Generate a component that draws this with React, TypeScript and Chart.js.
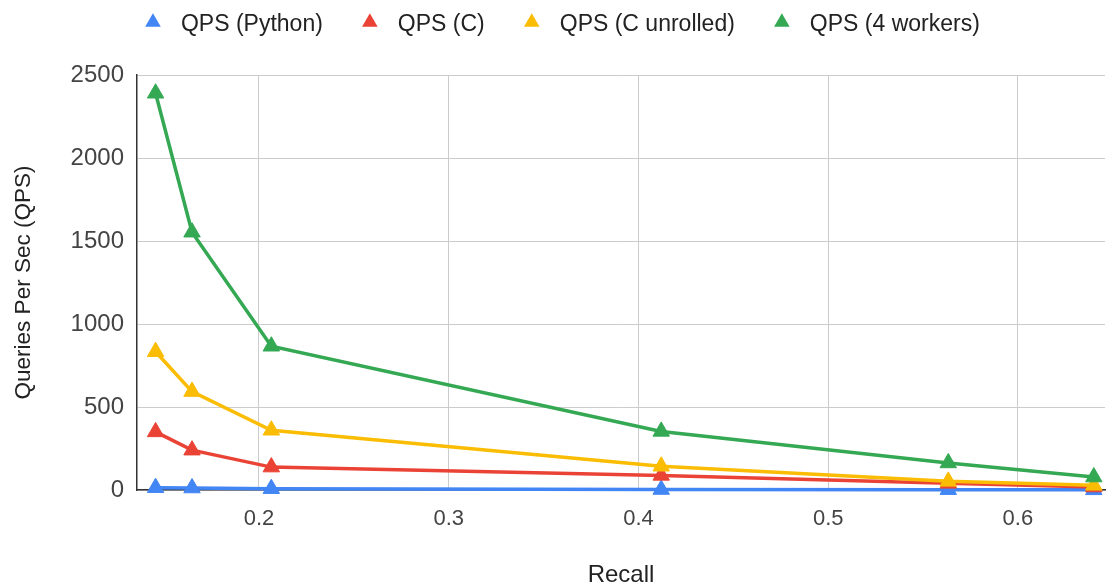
import React, { useEffect, useRef } from "react";
import { Chart, registerables } from "chart.js";

Chart.register(...registerables);

// ---- Data ----
const recall = [0.1455, 0.1647, 0.2065, 0.412, 0.5633, 0.64];
const qpsPython = [14, 12, 8, 3, 2, 1];
const qpsC = [350, 240, 138, 88, 40, 18];
const qpsCUnrolled = [833, 593, 360, 143, 52, 28];
const qps4Workers = [2390, 1553, 866, 353, 163, 78];
const seriesNames = ["QPS (Python)", "QPS (C)", "QPS (C unrolled)", "QPS (4 workers)"];
const seriesColors = ["#4285F4", "#EA4335", "#FBBC04", "#34A853"];
const xTickValues = [0.2, 0.3, 0.4, 0.5, 0.6];
const yTickValues = [0, 500, 1000, 1500, 2000, 2500];
const xTitle = "Recall";
const yTitle = "Queries Per Sec (QPS)";

const FONT = "'Liberation Sans', Arial, sans-serif";

export default function App() {
  const canvasRef = useRef<HTMLCanvasElement | null>(null);

  useEffect(() => {
    document.body.style.margin = "0";
    const canvas = canvasRef.current;
    if (!canvas) return;
    const seriesValues = [qpsPython, qpsC, qpsCUnrolled, qps4Workers];

    const datasets = seriesValues.map((vals, si) => ({
      label: seriesNames[si],
      data: recall.map((x, i) => ({ x, y: vals[i] })),
      borderColor: seriesColors[si],
      backgroundColor: seriesColors[si],
      borderWidth: 3.5,
      pointStyle: "triangle" as const,
      pointRadius: 9.5,
      pointBorderWidth: 1,
      pointBackgroundColor: seriesColors[si],
      pointBorderColor: seriesColors[si],
      showLine: true,
      tension: 0,
      clip: false as const,
      order: 4 - si,
    }));

    // Custom legend drawn on the canvas (triangle markers + labels), centered.
    const legendPlugin = {
      id: "customLegend",
      afterDraw(chart: any) {
        const ctx = chart.ctx as CanvasRenderingContext2D;
        ctx.save();
        ctx.font = `23px ${FONT}`;
        const r = 9;
        const triToText = 28;
        const textToTri = 47;
        const widths = seriesNames.map((n) => ctx.measureText(n).width);
        let total = r * 0.866;
        widths.forEach((w, i) => {
          total += triToText + w + (i < widths.length - 1 ? textToTri : 0);
        });
        const center = 562.5;
        let cx = center - total / 2 + r * 0.866;
        const cy = 22.3;
        const baseline = 30.5;
        seriesNames.forEach((name, i) => {
          ctx.beginPath();
          ctx.moveTo(cx, cy - r);
          ctx.lineTo(cx + r * 0.866, cy + r / 2);
          ctx.lineTo(cx - r * 0.866, cy + r / 2);
          ctx.closePath();
          ctx.fillStyle = seriesColors[i];
          ctx.fill();
          ctx.fillStyle = "#222222";
          ctx.textBaseline = "alphabetic";
          ctx.textAlign = "left";
          ctx.fillText(name, cx + triToText, baseline);
          cx += triToText + widths[i] + textToTri;
        });
        ctx.restore();
      },
    };

    const chart = new Chart(canvas, {
      type: "line",
      data: { datasets },
      plugins: [legendPlugin],
      options: {
        animation: false,
        responsive: false,
        maintainAspectRatio: false,
        layout: { autoPadding: false, padding: { left: 0, right: 2, top: 75, bottom: 0 } },
        plugins: {
          tooltip: { enabled: false },
          legend: { display: false },
        },
        scales: {
          x: {
            type: "linear",
            min: 0.1357,
            max: 0.6459,
            afterBuildTicks: (s: any) => {
              s.ticks = xTickValues.map((v) => ({ value: v }));
            },
            afterFit: (s: any) => {
              s.height = 98;
              s.paddingLeft = 0;
              s.paddingRight = 0;
            },
            grid: { color: "#cccccc", lineWidth: 1, drawTicks: false },
            border: { color: "#333333", width: 1.5 },
            ticks: {
              color: "#444444",
              padding: 16,
              font: { family: FONT, size: 22 },
              callback: (v: any) => Number(v).toFixed(1),
            },
            title: {
              display: true,
              text: xTitle,
              color: "#222222",
              font: { family: FONT, size: 24 },
              padding: { top: 0, bottom: -2 },
            },
          },
          y: {
            type: "linear",
            min: 0,
            max: 2500,
            afterBuildTicks: (s: any) => {
              s.ticks = yTickValues.map((v) => ({ value: v }));
            },
            afterFit: (s: any) => {
              s.width = 137;
            },
            grid: { color: "#cccccc", lineWidth: 1, drawTicks: false },
            border: { color: "#333333", width: 1.5 },
            ticks: {
              color: "#444444",
              padding: 13,
              font: { family: FONT, size: 24 },
              callback: (v: any) => String(v),
            },
            title: {
              display: true,
              text: yTitle,
              color: "#222222",
              font: { family: FONT, size: 22.5 },
              padding: { top: 10, bottom: 0 },
            },
          },
        },
      },
    });

    return () => {
      chart.destroy();
    };
  }, []);

  return (
    <div style={{ width: 1107, height: 588, background: "#ffffff" }}>
      <canvas ref={canvasRef} width={1107} height={588} style={{ display: "block" }} />
    </div>
  );
}
